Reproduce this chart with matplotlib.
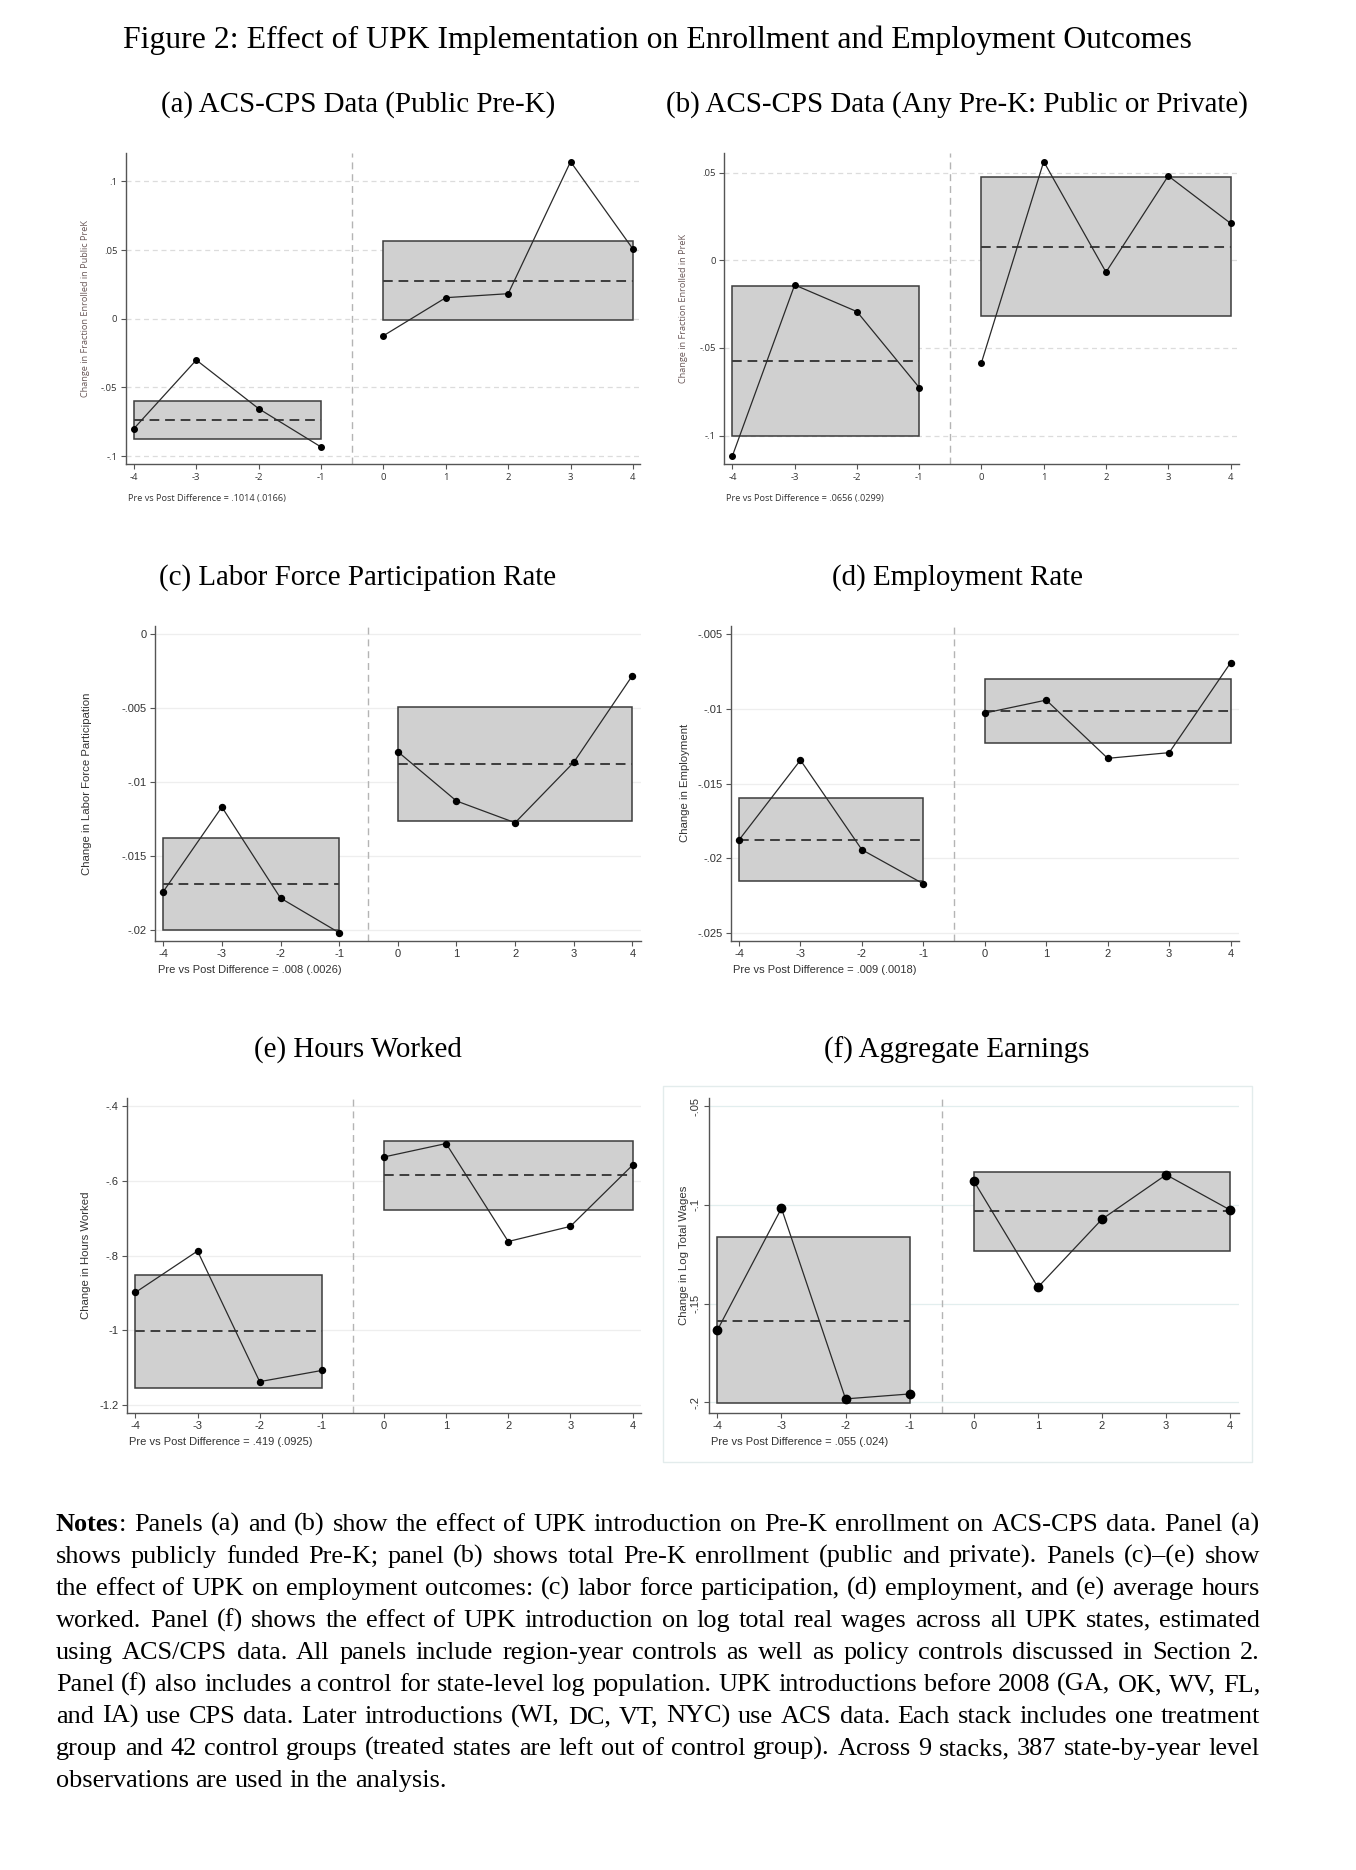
import matplotlib
matplotlib.use('Agg')
import matplotlib.pyplot as plt
from matplotlib.patches import Rectangle

# ---------------- data ----------------
event_time = [-4, -3, -2, -1, 0, 1, 2, 3, 4]
x_ticks = [-4, -3, -2, -1, 0, 1, 2, 3, 4]
pre_span = (-4, -1)
post_span = (0, 4)

# (a) public pre-K enrollment
a_coef = [-0.0800, -0.0301, -0.0655, -0.0934, -0.0124, 0.0153, 0.0182, 0.1143, 0.0507]
a_pre = (-0.0874, -0.0600, -0.0735)      # (lower, upper, mean)
a_post = (-0.0012, 0.0568, 0.0277)
a_yticks = [-0.1, -0.05, 0, 0.05, 0.1]
a_ylabels = ["-.1", "-.05", "0", ".05", ".1"]

# (b) any pre-K enrollment
b_coef = [-0.1116, -0.0141, -0.0293, -0.0726, -0.0584, 0.0563, -0.0068, 0.0481, 0.0211]
b_pre = (-0.1002, -0.0148, -0.0576)
b_post = (-0.0316, 0.0475, 0.0078)
b_yticks = [-0.1, -0.05, 0, 0.05]
b_ylabels = ["-.1", "-.05", "0", ".05"]

# (c) labor force participation
c_coef = [-0.01739, -0.01167, -0.01782, -0.02016, -0.00793, -0.01126, -0.01273, -0.00865, -0.00279]
c_pre = (-0.01995, -0.01378, -0.01687)
c_post = (-0.01264, -0.00489, -0.00876)
c_yticks = [-0.02, -0.015, -0.01, -0.005, 0]
c_ylabels = ["-.02", "-.015", "-.01", "-.005", "0"]

# (d) employment
d_coef = [-0.01877, -0.01342, -0.01942, -0.02170, -0.01027, -0.00940, -0.01330, -0.01292, -0.00690]
d_pre = (-0.02152, -0.01598, -0.01875)
d_post = (-0.01228, -0.00801, -0.01013)
d_yticks = [-0.025, -0.02, -0.015, -0.01, -0.005]
d_ylabels = ["-.025", "-.02", "-.015", "-.01", "-.005"]

# (e) hours worked
e_coef = [-0.899, -0.788, -1.138, -1.108, -0.536, -0.500, -0.7625, -0.722, -0.558]
e_pre = (-1.156, -0.851, -1.0036)
e_post = (-0.678, -0.492, -0.585)
e_yticks = [-1.2, -1.0, -0.8, -0.6, -0.4]
e_ylabels = ["-1.2", "-1", "-.8", "-.6", "-.4"]

# (f) log total wages
f_coef = [-0.1635, -0.1017, -0.1983, -0.1958, -0.0879, -0.1417, -0.1072, -0.0847, -0.1026]
f_pre = (-0.2005, -0.1163, -0.1586)
f_post = (-0.1231, -0.0833, -0.1033)
f_yticks = [-0.2, -0.15, -0.1, -0.05]
f_ylabels = ["-.2", "-.15", "-.1", "-.05"]

title = "Figure 2: Effect of UPK Implementation on Enrollment and Employment Outcomes"
subtitles = ["(a) ACS-CPS Data (Public Pre-K)",
             "(b) ACS-CPS Data (Any Pre-K: Public or Private)",
             "(c) Labor Force Participation Rate",
             "(d) Employment Rate",
             "(e) Hours Worked",
             "(f) Aggregate Earnings"]
ylabels = ["Change in Fraction Enrolled in Public PreK",
           "Change in Fraction Enrolled in PreK",
           "Change in Labor Force Participation",
           "Change in Employment",
           "Change in Hours Worked",
           "Change in Log Total Wages"]
diff_notes = ["Pre vs Post Difference = .1014 (.0166)",
              "Pre vs Post Difference = .0656 (.0299)",
              "Pre vs Post Difference = .008 (.0026)",
              "Pre vs Post Difference = .009 (.0018)",
              "Pre vs Post Difference = .419 (.0925)",
              "Pre vs Post Difference = .055 (.024)"]

notes_lines = [
    "Notes: Panels (a) and (b) show the effect of UPK introduction on Pre-K enrollment on ACS-CPS data. Panel (a)",
    "shows publicly funded Pre-K; panel (b) shows total Pre-K enrollment (public and private). Panels (c)\u2013(e) show",
    "the effect of UPK on employment outcomes: (c) labor force participation, (d) employment, and (e) average hours",
    "worked. Panel (f) shows the effect of UPK introduction on log total real wages across all UPK states, estimated",
    "using ACS/CPS data. All panels include region-year controls as well as policy controls discussed in Section 2.",
    "Panel (f) also includes a control for state-level log population. UPK introductions before 2008 (GA, OK, WV, FL,",
    "and IA) use CPS data. Later introductions (WI, DC, VT, NYC) use ACS data. Each stack includes one treatment",
    "group and 42 control groups (treated states are left out of control group). Across 9 stacks, 387 state-by-year level",
    "observations are used in the analysis.",
]

# ---------------- layout ----------------
W, H = 1356, 1870
fig = plt.figure(figsize=(W / 100, H / 100), dpi=100)
fig.patch.set_facecolor('white')


def fx(x):
    return x / W


def fy(y):
    return 1 - y / H


SERIF = ['Liberation Serif', 'DejaVu Serif']

fig.text(fx(657), fy(40), title, ha='center', va='center', family=SERIF, fontsize=22.85)

sub_pos = [(358, 105), (957, 105), (358, 578), (957, 578), (358, 1050), (957, 1050)]
for (sx, sy), s in zip(sub_pos, subtitles):
    fig.text(fx(sx), fy(sy), s, ha='center', va='center', family=SERIF, fontsize=20.9)

# panel geometry: L, R, T, B (pixels), xlim, ylim, ylabel x, note x, note y
panels = [
    dict(L=125.8, R=639.8, T=153.3, B=464.3, xlim=(-4.13, 4.11), ylim=(-0.106, 0.1204),
         ylx=86, nx=128, ny=498, coef=a_coef, pre=a_pre, post=a_post,
         yt=a_yticks, ytl=a_ylabels, style='a'),
    dict(L=724, R=1238.6, T=153.3, B=464.3, xlim=(-4.135, 4.13), ylim=(-0.1164, 0.0610),
         ylx=684, nx=726, ny=498, coef=b_coef, pre=b_pre, post=b_post,
         yt=b_yticks, ytl=b_ylabels, style='a'),
    dict(L=155, R=640.6, T=626, B=940.7, xlim=(-4.14, 4.14), ylim=(-0.0207, 0.00056),
         ylx=87, nx=157.6, ny=970, coef=c_coef, pre=c_pre, post=c_post,
         yt=c_yticks, ytl=c_ylabels, style='c'),
    dict(L=731, R=1238.6, T=626, B=940.7, xlim=(-4.13, 4.13), ylim=(-0.02551, -0.00444),
         ylx=685, nx=733, ny=970, coef=d_coef, pre=d_pre, post=d_post,
         yt=d_yticks, ytl=d_ylabels, style='c'),
    dict(L=127, R=640.6, T=1098, B=1413, xlim=(-4.135, 4.13), ylim=(-1.222, -0.378),
         ylx=86, nx=129, ny=1442, coef=e_coef, pre=e_pre, post=e_post,
         yt=e_yticks, ytl=e_ylabels, style='c'),
    dict(L=709, R=1238.6, T=1098, B=1412.7, xlim=(-4.13, 4.13), ylim=(-0.2053, -0.0458),
         ylx=684, nx=711, ny=1442, coef=f_coef, pre=f_pre, post=f_post,
         yt=f_yticks, ytl=f_ylabels, style='f'),
]

# outer frame of panel (f)
fig.patches.append(Rectangle((fx(663), fy(1462)), fx(1252 - 663), (1462 - 1086) / H,
                             transform=fig.transFigure, fill=False, edgecolor='#e3ecec',
                             linewidth=1.0))

for i, p in enumerate(panels):
    ax = fig.add_axes([fx(p['L']), fy(p['B']), fx(p['R'] - p['L']), (p['B'] - p['T']) / H])
    ax.set_xlim(*p['xlim'])
    ax.set_ylim(*p['ylim'])
    st = p['style']
    if st == 'a':
        sans = ['Open Sans', 'DejaVu Sans']
        tfs, lfs, nfs = 6.8, 6.6, 6.6
        gcol, gls = '#dcdcdc', (0, (4, 3))
        ylcol = '#6a5858'
        ms = 4.0
    elif st == 'c':
        sans = ['Liberation Sans', 'DejaVu Sans']
        tfs, lfs, nfs = 8.0, 8.2, 8.0
        gcol, gls = '#eeeeee', '-'
        ylcol = '#333333'
        ms = 4.3
    else:
        sans = ['Liberation Sans', 'DejaVu Sans']
        tfs, lfs, nfs = 8.0, 8.2, 8.0
        gcol, gls = '#e2eeee', '-'
        ylcol = '#333333'
        ms = 6.0

    for s in ['top', 'right']:
        ax.spines[s].set_visible(False)
    for s in ['left', 'bottom']:
        ax.spines[s].set_color('#555555')
        ax.spines[s].set_linewidth(1.0)

    ax.set_xticks(x_ticks)
    ax.set_xticklabels([str(v) for v in x_ticks])
    ax.set_yticks(p['yt'])
    ax.set_yticklabels(p['ytl'])
    ax.tick_params(axis='both', direction='out', length=3.5, width=0.8, colors='#555555',
                   labelcolor='#333333', labelsize=tfs, pad=2.5)
    for lab in ax.get_xticklabels() + ax.get_yticklabels():
        lab.set_family(sans)
    if st == 'f':
        for lab in ax.get_yticklabels():
            lab.set_rotation(90)
            lab.set_va('center')
    ax.set_axisbelow(True)
    ax.yaxis.grid(True, color=gcol, linestyle=gls, linewidth=0.9)
    ax.xaxis.grid(False)

    # event line
    ax.axvline(-0.5, color='#b4b4b4', linewidth=1.0, linestyle=(0, (5, 3.5)), zorder=1)

    for span, stats in [(pre_span, p['pre']), (post_span, p['post'])]:
        lo, hi, mean = stats
        ax.add_patch(Rectangle((span[0], lo), span[1] - span[0], hi - lo,
                               facecolor='#d0d0d0', edgecolor='#3c3c3c', linewidth=1.1, zorder=2))
        ax.plot(list(span), [mean, mean], color='#3c3c3c', linewidth=1.4,
                linestyle=(0, (5, 3)), zorder=3)

    # connected coefficients, separately for pre and post periods
    n_pre = sum(1 for t in event_time if t < 0)
    for xs, ys in [(event_time[:n_pre], p['coef'][:n_pre]),
                   (event_time[n_pre:], p['coef'][n_pre:])]:
        ax.plot(xs, ys, color='#2a2a2a', linewidth=0.9, zorder=4)
        ax.plot(xs, ys, linestyle='none', marker='o', markersize=ms,
                color='black', zorder=5)

    ax.set_ylabel(ylabels[i], family=sans, fontsize=lfs, color=ylcol)
    ax.yaxis.label.set_va('center')
    ax.yaxis.set_label_coords((p['ylx'] - p['L']) / (p['R'] - p['L']), 0.5)
    fig.text(fx(p['nx']), fy(p['ny']), diff_notes[i], ha='left', va='center',
             family=sans, fontsize=nfs, color='#333333')

# ---------------- justified notes ----------------
renderer = fig.canvas.get_renderer()
NOTE_FS = 18.9
left_px, right_px = 56, 1260
y0, dy = 1531, 32.0


def measure(s, weight='normal'):
    t = fig.text(0, 0, s, family=SERIF, fontsize=NOTE_FS, weight=weight)
    w = t.get_window_extent(renderer).width
    t.remove()
    return w


space_w = measure('a b') - measure('ab')

for li, line in enumerate(notes_lines):
    words = line.split()
    segs = []
    for wi, w in enumerate(words):
        if li == 0 and wi == 0:
            segs.append([('Notes', 'bold'), (':', 'normal')])
        else:
            segs.append([(w, 'normal')])
    widths = [sum(measure(s, wt) for s, wt in seg) for seg in segs]
    total = sum(widths)
    if li < len(notes_lines) - 1:
        gap = (right_px - left_px - total) / (len(segs) - 1)
    else:
        gap = space_w
    x = left_px
    ybase = y0 + li * dy
    for seg, wseg in zip(segs, widths):
        xx = x
        for s, wt in seg:
            fig.text(fx(xx), fy(ybase), s, family=SERIF, fontsize=NOTE_FS, weight=wt,
                     ha='left', va='baseline')
            xx += measure(s, wt)
        x += wseg + gap

fig.savefig('out.png', dpi=100, facecolor='white')
